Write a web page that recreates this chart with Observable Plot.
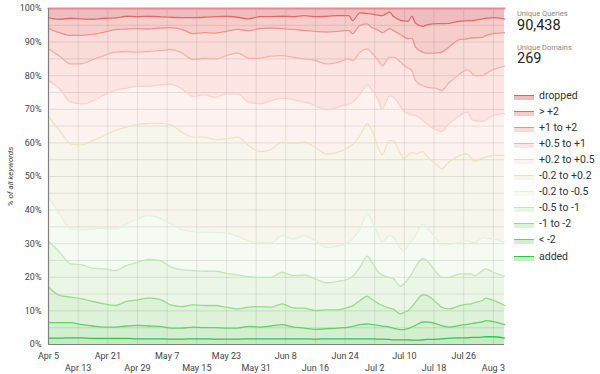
<!DOCTYPE html>
<html><head><meta charset="utf-8">
<script src="https://cdn.jsdelivr.net/npm/d3@7"></script>
<script src="https://cdn.jsdelivr.net/npm/@observablehq/plot@0.6"></script>
<style>
body{margin:0;background:#fff;font-family:Roboto,sans-serif;}
#wrap{position:relative;width:600px;height:374px;overflow:hidden;}
#chart{position:absolute;left:0;top:0;}
.stat-l{position:absolute;left:517px;font-size:7.5px;color:#888;line-height:1;white-space:nowrap;}
.stat-v{position:absolute;left:517px;font-size:14.5px;color:#222;line-height:1;white-space:nowrap;}
.lg{position:absolute;left:514px;height:12px;white-space:nowrap;}
.lg .sw{position:absolute;left:0;top:5px;width:20px;height:4px;}
.lg .tx{position:absolute;left:25px;top:0;font-size:10.5px;line-height:12px;color:#333;}
</style></head>
<body><div id="wrap"><div id="chart"></div></div>
<script>
// ---- data (share of keywords, %; upper edge of each stacked band) ----
const dates = ["2018-04-05","2018-04-08","2018-04-11","2018-04-14","2018-04-17","2018-04-20","2018-04-23","2018-04-26","2018-04-29","2018-05-02","2018-05-05","2018-05-08","2018-05-11","2018-05-14","2018-05-17","2018-05-20","2018-05-23","2018-05-26","2018-05-29","2018-06-01","2018-06-04","2018-06-07","2018-06-10","2018-06-13","2018-06-16","2018-06-19","2018-06-22","2018-06-25","2018-06-26","2018-06-28","2018-06-30","2018-07-01","2018-07-03","2018-07-04","2018-07-06","2018-07-07","2018-07-09","2018-07-10","2018-07-11","2018-07-12","2018-07-13","2018-07-15","2018-07-16","2018-07-19","2018-07-20","2018-07-22","2018-07-25","2018-07-27","2018-07-28","2018-07-29","2018-07-31","2018-08-01","2018-08-03","2018-08-06"];

const categories = ["added","< -2","-1 to -2","-0.5 to -1","-0.2 to -0.5","-0.2 to +0.2","+0.2 to +0.5","+0.5 to +1","+1 to +2","> +2","dropped"];

const topAdded = [1.9,1.9,2.0,2.0,1.8,1.8,1.8,1.8,1.7,1.7,1.7,1.6,1.6,1.7,1.7,1.6,1.6,1.6,1.7,1.7,1.7,1.7, 1.7,1.7,1.6,1.7,1.7,1.7,1.7,1.7,1.7,1.7,1.6,1.6,1.5,1.4, 1.4,1.4,1.4,1.3,1.3,1.4,1.5, 1.6,1.7,1.9,2.0,2.0,2.1,2.1,2.2,2.3,2.3,1.9];
const topLtMinus2 = [6.6,6.5,6.5,5.9,5.5,5.2,5.2,5.5,5.7,5.5,5.4,4.9,4.9,5.2,5.0,5.0,4.9,4.9,5.4,5.2,5.5,5.9, 5.2,4.9,4.5,4.7,4.9,5.2,5.4,5.9,6.1,6.0,5.7,5.5,5.2,4.9, 4.4,4.5,4.7,5.2,5.7,6.7,6.7, 6.0,5.6,5.2,5.7,6.0,6.2,6.4,6.7,7.1,6.8,5.9];
const topMinus1to2 = [17.1,14.6,14.1,13.6,12.8,12.1,11.6,12.8,13.3,13.8,13.4,11.8,11.3,11.8,11.6,11.6,11.1,10.6,11.1,11.3,11.1,12.1, 10.9,10.8,10.1,10.3,10.3,11.1,11.5,13.1,14.4,13.6,12.2,11.6,10.8,10.5, 9.1,9.6,10.1,11.2,12.6,14.8,14.6, 12.1,11.1,10.6,11.6,12.0,12.1,12.5,13.1,13.8,13.1,11.6];
const topMinus05to1 = [30.8,27.5,24.0,23.7,22.7,22.5,22.0,23.5,24.5,25.3,25.0,23.1,22.2,22.0,21.8,21.8,21.2,20.7,20.2,20.0,20.0,21.5, 20.5,20.7,19.5,18.3,18.8,19.5,20.3,23.0,26.3,25.0,21.5,20.7,20.0,19.6, 17.3,18.3,19.5,21.0,23.0,25.6,25.0, 21.0,20.0,20.0,21.0,21.0,21.0,20.5,22.0,22.5,21.5,20.3];
const topMinus02to05 = [43.9,38.9,34.4,34.2,34.4,34.6,34.4,35.9,37.4,38.4,37.6,35.9,34.1,33.6,33.4,33.4,33.2,32.2,30.8,30.3,30.3,32.4, 31.4,32.4,30.8,28.9,29.3,30.5,31.5,34.4,38.9,37.4,32.4,30.5,32.4,31.9, 28.5,28.0,29.5,31.0,32.5,35.9,34.9, 30.9,29.5,29.7,30.5,30.9,30.5,30.3,31.7,31.6,31.4,30.5];
const topFlat = [67.9,63.7,59.7,59.4,60.7,62.2,63.7,64.7,65.5,65.8,65.9,65.4,63.2,61.7,61.7,61.0,61.2,61.7,59.2,57.4,58.0,60.2, 59.9,60.2,58.7,56.7,57.2,58.7,59.5,62.2,65.7,64.2,58.5,56.5,60.7,60.7, 56.7,55.3,56.5,57.2,56.8,57.4,56.1, 53.3,52.3,54.3,56.3,56.7,55.5,54.5,55.5,55.8,56.3,56.3];
const topPlus02to05 = [78.6,76.1,72.1,71.6,72.6,74.3,75.6,76.3,76.8,76.8,77.3,77.4,76.1,73.9,74.3,73.6,74.6,74.6,72.1,71.6,72.6,73.3, 72.9,72.1,71.1,69.9,70.6,71.6,72.1,74.6,77.3,76.1,72.6,70.1,74.0,73.6, 70.8,69.2,68.7,68.4,68.2,66.7,65.7, 63.7,63.4,65.7,68.2,69.2,67.2,66.6,66.4,67.0,68.2,68.7];
const topPlus05to1 = [88.0,85.8,83.5,83.6,84.8,86.0,87.0,87.2,87.0,87.2,87.5,87.8,86.8,84.8,85.2,85.0,86.0,86.8,85.2,85.2,85.8,86.0, 85.5,85.0,84.5,83.5,84.0,85.0,84.5,87.0,88.0,87.0,84.5,83.0,85.5,85.5, 84.0,83.0,82.3,81.6,78.5,77.0,76.6, 76.1,75.6,77.9,80.6,81.8,81.0,80.0,80.0,80.6,81.9,82.8];
const topPlus1to2 = [94.1,92.8,92.0,92.0,92.4,93.0,93.7,93.9,94.0,93.9,94.2,94.3,93.8,92.5,92.8,92.7,93.2,93.8,93.4,94.0,94.2,94.0, 93.8,93.5,93.2,93.0,93.2,93.5,92.5,95.0,95.4,94.5,93.5,92.8,94.0,93.5, 92.2,91.5,91.0,91.2,88.5,87.0,86.7, 86.8,87.0,88.5,90.8,91.0,91.3,91.3,91.4,92.0,92.5,92.8];
const topGtPlus2 = [97.3,96.8,97.1,96.9,96.8,97.1,97.2,97.7,97.6,97.7,97.6,97.4,97.3,97.3,97.4,97.6,97.7,97.4,96.9,97.6,97.6,97.7, 97.6,97.9,97.6,97.7,97.9,97.9,96.4,98.7,98.5,98.4,98.0,97.9,98.9,97.7, 96.5,96.3,96.2,97.7,95.6,94.7,95.1, 95.5,95.5,95.6,96.2,96.4,96.4,96.5,96.9,97.1,97.3,96.9];
const total = 100;
const topDropped = dates.map(() => total);

const xTickLabels = ["2018-04-05","2018-04-13","2018-04-21","2018-04-29","2018-05-07","2018-05-15","2018-05-23","2018-05-31","2018-06-08","2018-06-16","2018-06-24","2018-07-02","2018-07-10","2018-07-18","2018-07-26","2018-08-03"];
const yTicks = [0,10,20,30,40,50,60,70,80,90,100];
const yGrid = [5,10,15,20,25,30,35,40,45,50,55,60,65,70,75,80,85,90,95];

const stats = [["Unique Queries","90,438"],["Unique Domains","269"]];

// ---- styles ----
const fills = ["#c6ebc4","#d3efcf","#ddf2d8","#ebf6e7","#f5faf2","#f8f5ec","#fef2f0","#fce5e2","#f9dbd8","#f6cdcb","#efbcbf"];
const strokes = ["#2ec54c","#62d067","#94dc8a","#bfe8b5","#e1f3d9","#ece3bf","#fbd0c8","#f8b0a4","#f29286","#e6675f","#e88a8c"];

const tops = [topAdded,topLtMinus2,topMinus1to2,topMinus05to1,topMinus02to05,topFlat,topPlus02to05,topPlus05to1,topPlus1to2,topGtPlus2,topDropped];
const parse = d3.utcParse("%Y-%m-%d");
const D = dates.map(parse);
const bands = categories.map((c, i) => ({
  cat: c, fill: fills[i], stroke: strokes[i],
  rows: D.map((d, j) => ({date: d, lo: i === 0 ? 0 : tops[i-1][j], hi: tops[i][j]}))
}));
const xt = xTickLabels.map(parse);
const xtTop = xt.filter((d, i) => i % 2 === 0);
const xtBot = xt.filter((d, i) => i % 2 === 1);
const fmt = d3.utcFormat("%b %-d");

const chart = Plot.plot({
  width: 600, height: 374,
  marginLeft: 48, marginRight: 96, marginTop: 8, marginBottom: 30,
  style: {fontFamily: "Roboto, sans-serif", fontSize: "9px", color: "#444", background: "transparent", overflow: "visible"},
  x: {type: "utc", domain: [D[0], D[D.length - 1]]},
  y: {domain: [0, 100]},
  marks: [
    ...bands.map(b => Plot.areaY(b.rows, {x: "date", y1: "lo", y2: "hi", fill: b.fill, curve: "monotone-x"})),
    Plot.gridY(yGrid, {stroke: "#000", strokeOpacity: 0.09}),
    Plot.gridX(xt.slice(1), {stroke: "#000", strokeOpacity: 0.09}),
    ...bands.map((b, i) => Plot.lineY(b.rows, {x: "date", y: "hi", stroke: b.stroke, strokeWidth: i === 10 ? 2.2 : 1.3, curve: "monotone-x"})),
    Plot.ruleX([D[0]], {stroke: "#808080", strokeWidth: 1.2}),
    Plot.ruleY([0], {stroke: "#808080", strokeWidth: 1.2}),
    Plot.axisY(yTicks, {tickSize: 0, tickPadding: 7, tickFormat: d => d + "%", label: null}),
    Plot.axisX(xtTop, {tickSize: 0, tickPadding: 8, tickFormat: fmt, label: null}),
    Plot.axisX(xtBot, {tickSize: 0, tickPadding: 20, tickFormat: fmt, label: null}),
    Plot.text(["% of all keywords"], {frameAnchor: "left", dx: -38, rotate: -90, textAnchor: "middle", fontSize: 8, fontStyle: "italic", fill: "#444"})
  ]
});
const wrap = document.getElementById("wrap");
document.getElementById("chart").appendChild(chart);

// stats panel
stats.forEach(([lab, val], i) => {
  const l = document.createElement("div"); l.className = "stat-l"; l.textContent = lab; l.style.top = (10 + i * 33.5) + "px"; wrap.appendChild(l);
  const v = document.createElement("div"); v.className = "stat-v"; v.textContent = val; v.style.top = (19 + i * 33) + "px"; wrap.appendChild(v);
});

// legend (top: dropped ... bottom: added)
categories.slice().reverse().forEach((c, k) => {
  const i = categories.length - 1 - k;
  const row = document.createElement("div"); row.className = "lg"; row.style.top = (89.5 + k * 16.1) + "px";
  const sw = document.createElement("div"); sw.className = "sw";
  sw.style.background = fills[i]; sw.style.borderTop = "1.5px solid " + (i === 10 ? "#e0605c" : strokes[i]);
  const tx = document.createElement("div"); tx.className = "tx"; tx.textContent = c;
  row.appendChild(sw); row.appendChild(tx); wrap.appendChild(row);
});
</script>
</body></html>
